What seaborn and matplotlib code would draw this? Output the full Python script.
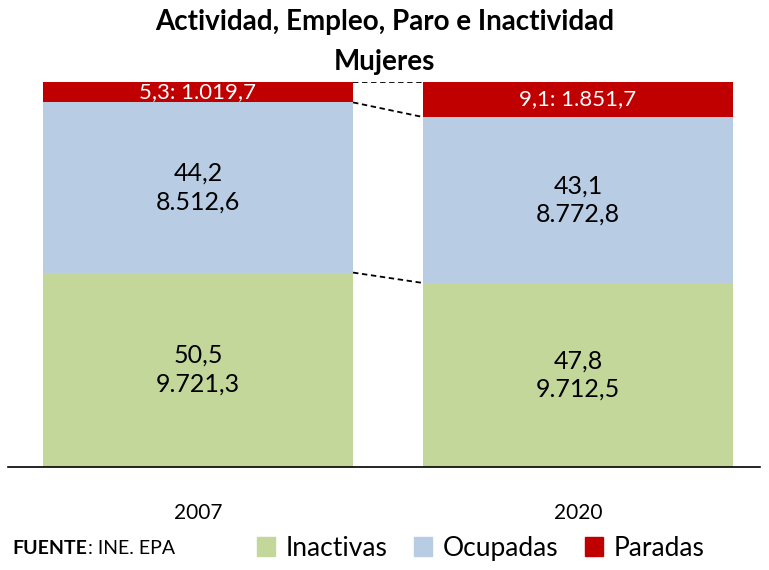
import matplotlib.pyplot as plt
import matplotlib.patches as mpatches
import pandas as pd
import seaborn as sns

# Data (% of women 16+, and thousands)
years = ['2007', '2020']
inactivas_pct = [50.5, 47.8]
ocupadas_pct = [44.2, 43.1]
paradas_pct = [5.3, 9.1]
inactivas_miles = ['9.721,3', '9.712,5']
ocupadas_miles = ['8.512,6', '8.772,8']
paradas_miles = ['1.019,7', '1.851,7']
series = ['Inactivas', 'Ocupadas', 'Paradas']
colors = {'Inactivas': '#C4D79B', 'Ocupadas': '#B8CCE4', 'Paradas': '#C00000'}

sns.set_style('white')
plt.rcParams['font.family'] = ['Lato', 'DejaVu Sans']
plt.rcParams['text.color'] = 'black'
plt.rcParams['xtick.color'] = 'black'

df = pd.DataFrame({'year': years, 'Inactivas': inactivas_pct,
                   'Ocupadas': ocupadas_pct, 'Paradas': paradas_pct})
df['cum_inact'] = df['Inactivas']
df['cum_ocup'] = df['Inactivas'] + df['Ocupadas']
df['cum_total'] = df['cum_ocup'] + df['Paradas']

fig = plt.figure(figsize=(7.69, 5.70), dpi=100)
ax = fig.add_axes([8 / 769, 1 - 467 / 570, 752 / 769, 385 / 570])

w = 0.816
# stacked by overlaying cumulative totals
for col, s in [('cum_total', 'Paradas'), ('cum_ocup', 'Ocupadas'), ('cum_inact', 'Inactivas')]:
    sns.barplot(data=df, x='year', y=col, color=colors[s], width=w,
                saturation=1, ax=ax, errorbar=None, linewidth=0)

# labels
for i in range(len(years)):
    ax.text(i, inactivas_pct[i] / 2, f"{str(inactivas_pct[i]).replace('.', ',')}\n{inactivas_miles[i]}",
            ha='center', va='center', fontsize=18, linespacing=1.3)
    ax.text(i, df['cum_inact'][i] + ocupadas_pct[i] / 2,
            f"{str(ocupadas_pct[i]).replace('.', ',')}\n{ocupadas_miles[i]}",
            ha='center', va='center', fontsize=18, linespacing=1.3)
    ax.text(i, df['cum_ocup'][i] + paradas_pct[i] / 2,
            f"{str(paradas_pct[i]).replace('.', ',')}: {paradas_miles[i]}",
            ha='center', va='center', fontsize=16, color='white')

# connector lines
for col in ['cum_inact', 'cum_ocup', 'cum_total']:
    ax.plot([w / 2, 1 - w / 2], [df[col][0], df[col][1]], color='black',
            linestyle=(0, (3, 2)), linewidth=1.3)

ax.set_xlim(-0.5, 1.479)
ax.set_ylim(0, 100)
ax.set_xlabel('')
ax.set_ylabel('')
ax.set_yticks([])
for s in ['top', 'right', 'left']:
    ax.spines[s].set_visible(False)
ax.spines['bottom'].set_color('black')
ax.spines['bottom'].set_linewidth(1.2)
ax.tick_params(axis='x', length=0, labelsize=15, pad=26)

fig.text(0.5, 0.985, 'Actividad, Empleo, Paro e Inactividad\nMujeres', ha='center', va='top',
         fontsize=20, fontweight='bold', linespacing=1.7)

handles = [mpatches.Patch(color=colors[s], label=s) for s in series]
fig.legend(handles=handles, loc='center', bbox_to_anchor=(0.625, 0.038), ncol=3,
           frameon=False, fontsize=19, handlelength=0.7, handleheight=0.7,
           handletextpad=0.4, columnspacing=1.0)

fig.text(12 / 769, 0.038, 'FUENTE', fontsize=14, fontweight='bold', va='center')
fig.text(88 / 769, 0.038, ': INE. EPA', fontsize=14, va='center')

fig.savefig('out.png', dpi=100)
